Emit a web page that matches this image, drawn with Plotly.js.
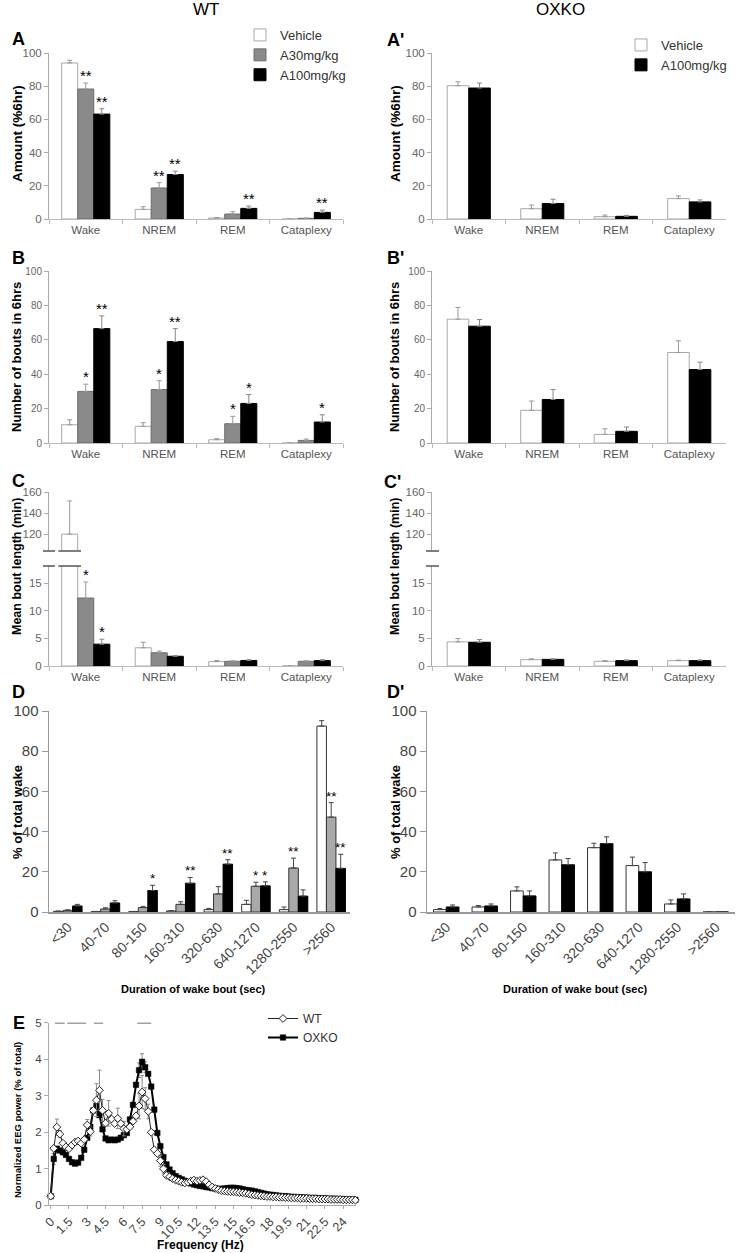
<!DOCTYPE html>
<html><head><meta charset="utf-8">
<script src="https://cdn.plot.ly/plotly-3.0.1.min.js"></script>
<style>html,body{margin:0;padding:0;background:#fff}#chart{width:736px;height:1253px}</style>
</head><body><div id="chart"></div>
<script>
// ================= DATA =================
const stages = ['Wake', 'NREM', 'REM', 'Cataplexy'];
const wakeBins = ['<30', '40-70', '80-150', '160-310', '320-630', '640-1270', '1280-2550', '>2560'];

// A (WT) amount (%6hr)
const amtWT_veh = [94, 5.8, 0.6, 0];       const amtWT_veh_err = [1.6, 1.6, 0.3, 0];
const amtWT_a30 = [78.3, 18.7, 3, 0.4];    const amtWT_a30_err = [3.6, 3.2, 1.4, 0.2];
const amtWT_a100 = [63.2, 26.8, 6.4, 4];   const amtWT_a100_err = [3.2, 2, 1.4, 1.4];
const amtWT_a30_sig = ['**', '**', '', ''];
const amtWT_a100_sig = ['**', '**', '**', '**'];
// A' (OXKO)
const amtKO_veh = [80.3, 6.2, 1.4, 12.3];  const amtKO_veh_err = [2.4, 2.2, 1, 1.6];
const amtKO_a100 = [78.9, 9.3, 1.6, 10.3]; const amtKO_a100_err = [3, 2.6, 0.6, 1.2];

// B (WT) number of bouts in 6hrs
const boutWT_veh = [10.6, 9.7, 1.9, 0];    const boutWT_veh_err = [2.9, 2.1, 0.6, 0];
const boutWT_a30 = [30, 31.1, 11.2, 1.5];  const boutWT_a30_err = [4.2, 5.1, 4.3, 0.8];
const boutWT_a100 = [66.5, 59, 23, 12.2];  const boutWT_a100_err = [7.4, 7.5, 5.2, 4.2];
const boutWT_a30_sig = ['*', '*', '*', ''];
const boutWT_a100_sig = ['**', '**', '*', '*'];
// B' (OXKO)
const boutKO_veh = [72, 19, 5, 52.6];      const boutKO_veh_err = [6.8, 5.4, 3.3, 6.8];
const boutKO_a100 = [67.9, 25.3, 6.8, 42.7]; const boutKO_a100_err = [3.9, 5.8, 2.5, 4.3];

// C (WT) mean bout length (min)
const lenWT_veh = [120, 3.3, 0.8, 0];      const lenWT_veh_err = [31.5, 1, 0.2, 0];
const lenWT_a30 = [12.3, 2.4, 0.85, 0.85]; const lenWT_a30_err = [2.9, 0.3, 0.1, 0.1];
const lenWT_a100 = [3.95, 1.76, 1.0, 0.97]; const lenWT_a100_err = [0.9, 0.12, 0.15, 0.18];
const lenWT_a30_sig = ['*', '', '', ''];
const lenWT_a100_sig = ['*', '', '', ''];
// C' (OXKO)
const lenKO_veh = [4.37, 1.15, 0.85, 0.97]; const lenKO_veh_err = [0.6, 0.15, 0.12, 0.1];
const lenKO_a100 = [4.3, 1.2, 0.97, 0.97];  const lenKO_a100_err = [0.5, 0.1, 0.13, 0.13];

// D (WT) % of total wake by bout duration
const distWT_veh = [0.3, 0.2, 0.2, 0.5, 1.2, 3.8, 1.2, 92.5];
const distWT_veh_err = [0.2, 0.1, 0.1, 0.2, 0.6, 2, 1.3, 2.7];
const distWT_a30 = [0.8, 1.5, 2.2, 3.8, 9, 12.8, 21.9, 47.2];
const distWT_a30_err = [0.3, 0.6, 0.6, 1.3, 3.6, 2, 4.9, 7.2];
const distWT_a100 = [3, 4.5, 10.7, 14.3, 23.8, 13, 7.9, 21.7];
const distWT_a100_err = [0.8, 1.1, 2.6, 2.9, 2.2, 2, 3.1, 7];
const distWT_a30_sig = ['', '', '', '', '', '*', '**', '**'];
const distWT_a100_sig = ['', '', '*', '**', '**', '*', '', '**'];
// D' (OXKO)
const distKO_veh = [1.2, 2.5, 10.5, 25.9, 32, 23.1, 4, 0];
const distKO_veh_err = [0.5, 0.7, 2, 3.5, 2.2, 4.2, 2, 0];
const distKO_a100 = [2.5, 3, 8, 23.5, 34, 20, 6.5, 0];
const distKO_a100_err = [1, 1, 2.5, 3.1, 3.4, 4.6, 2.5, 0];

// E normalized EEG power spectrum
const freqHz = [0,0.25,0.5,0.75,1,1.25,1.5,1.75,2,2.25,2.5,2.75,3,3.25,3.5,3.75,4,4.25,4.5,4.75,
  5,5.25,5.5,5.75,6,6.25,6.5,6.75,7,7.25,7.5,7.75,8,8.25,8.5,8.75,9,9.25,9.5,9.75,
  10,10.25,10.5,10.75,11,11.25,11.5,11.75,12,12.25,12.5,12.75,13,13.25,13.5,13.75,14,14.25,14.5,14.75,
  15,15.25,15.5,15.75,16,16.25,16.5,16.75,17,17.25,17.5,17.75,18,18.25,18.5,18.75,19,19.25,19.5,19.75,
  20,20.25,20.5,20.75,21,21.25,21.5,21.75,22,22.25,22.5,22.75,23,23.25,23.5,23.75,24,24.25,24.5,24.75,25];
const eegWT = [0.25,1.56,2.14,1.95,1.7,1.6,1.55,1.65,1.73,1.76,
  1.7,1.8,2.2,2.02,2.6,2.88,3.15,2.6,2.25,2.52,
  2.36,2.24,2.38,2.24,2.1,2.08,2.15,2.3,2.45,2.72,
  3.1,2.92,2.57,2.0,1.52,1.42,1.22,1.0,0.82,0.78,
  0.73,0.69,0.66,0.63,0.61,0.63,0.66,0.69,0.66,0.68,
  0.7,0.65,0.56,0.5,0.46,0.43,0.4,0.39,0.38,0.37,
  0.37,0.36,0.35,0.34,0.33,0.31,0.29,0.28,0.27,0.26,
  0.25,0.24,0.24,0.23,0.23,0.22,0.22,0.21,0.21,0.2,
  0.2,0.2,0.19,0.19,0.19,0.18,0.18,0.18,0.17,0.17,
  0.17,0.17,0.16,0.16,0.16,0.16,0.15,0.15,0.15,0.15,0.14];
const eegWT_err = [0,0,0.22,0.1,0,0,0,0,0,0,
  0,0,0.15,0.12,0,0.45,0.55,0.3,0,0.35,
  0,0,0.28,0,0.2,0,0,0,0,0.35,
  0.45,0.3,0.2,0,0,0,0.15,0.12,0,0,
  0,0,0,0,0,0,0,0,0,0,0,0,0,0,0,0,0,0,0,0,
  0,0,0,0,0,0,0,0,0,0,0,0,0,0,0,0,0,0,0,0,
  0,0,0,0,0,0,0,0,0,0,0,0,0,0,0,0,0,0,0,0,0];
const eegKO = [0.25,1.27,1.55,1.5,1.45,1.38,1.27,1.18,1.14,1.17,
  1.3,1.52,1.85,2.15,2.6,2.72,2.47,2.08,1.83,1.78,
  1.8,1.78,1.8,1.85,1.92,1.98,2.35,2.75,3.3,3.7,
  3.93,3.78,3.6,3.25,2.62,1.98,1.62,1.32,1.12,0.98,
  0.88,0.8,0.75,0.71,0.67,0.63,0.6,0.57,0.55,0.53,
  0.52,0.5,0.49,0.47,0.46,0.45,0.45,0.46,0.47,0.48,
  0.48,0.47,0.46,0.44,0.42,0.41,0.4,0.38,0.36,0.34,
  0.32,0.3,0.29,0.28,0.27,0.26,0.25,0.25,0.24,0.23,
  0.23,0.22,0.22,0.21,0.21,0.2,0.2,0.2,0.19,0.19,
  0.19,0.18,0.18,0.18,0.17,0.17,0.17,0.16,0.16,0.16,0.15];
const eegKO_err = [0,0.15,0,0,0,0,0,0,0,0,
  0,0,0,0,0,0.15,0,0,0,0,
  0,0,0,0,0,0,0,0,0,0.2,
  0.22,0.15,0,0,0,0,0,0,0,0,
  0,0,0,0,0,0,0,0,0,0,0,0,0,0,0,0,0,0,0,0,
  0,0,0,0,0,0,0,0,0,0,0,0,0,0,0,0,0,0,0,0,
  0,0,0,0,0,0,0,0,0,0,0,0,0,0,0,0,0,0,0,0,0];
const freqTicks = [0,1.5,3,4.5,6,7.5,9,10.5,12,13.5,15,16.5,18,19.5,21,22.5,24];
const sigStart = [0.35, 1.35, 3.55, 7.1];
const sigEnd = [1.15, 2.9, 4.3, 8.25];
const sigLevel = 5;

// ================= HELPERS =================
const FONT = 'Liberation Sans, Arial, sans-serif';
const W = 736, H = 1253;
const px = v => v / W;
const py = v => 1 - v / H;
const dX = (a, b) => [px(a), px(b)];
const dY = (top, bottom) => [py(bottom), py(top)];

const STY = {
  veh:  {fill: '#ffffff', line: '#a8a8a8', err: '#999'},
  a30:  {fill: '#8a8a8a', line: '#6e6e6e', err: '#999'},
  a100: {fill: '#000000', line: '#000000', err: '#888'},
  vehD: {fill: '#ffffff', line: '#333333', err: '#444'},
  a30D: {fill: '#a9a9a9', line: '#333333', err: '#444'},
  a100D:{fill: '#000000', line: '#000000', err: '#444'}
};

const traces = [];
const annotations = [];
const shapes = [];

function addBars(x, y, err, name, sty, xa, ya, idx, n, wFrac, legendId, sig, starFont) {
  const w = wFrac / n;
  const off = -wFrac / 2 + idx * w;
  traces.push({
    type: 'bar', x: x, y: y, name: name, xaxis: xa, yaxis: ya,
    width: w, offset: off,
    marker: {color: sty.fill, line: {color: sty.line, width: 1}},
    error_y: {type: 'data', symmetric: false, array: err, arrayminus: err.map(() => 0),
      color: sty.err, thickness: 1, width: 2.5, visible: true},
    showlegend: !!legendId, legend: legendId || 'legend', hoverinfo: 'skip'
  });
  if (sig) {
    sig.forEach((s, i) => {
      if (!s) return;
      annotations.push({
        xref: xa, yref: ya, x: i + off + w / 2, y: y[i] + err[i],
        text: s, showarrow: false, yanchor: 'bottom', xanchor: 'center', yshift: -3,
        font: {family: FONT, size: starFont || 15, color: '#000'}
      });
    });
  }
}

function catX(dom, anchor, cats, fsize) {
  return {domain: dom, anchor: anchor, type: 'category', categoryorder: 'array', categoryarray: cats,
    range: [-0.5, cats.length - 0.5], showline: true, linecolor: '#bbb', linewidth: 1,
    ticks: 'outside', tickson: 'boundaries', ticklen: 4, tickcolor: '#bbb',
    showgrid: false, zeroline: false, tickfont: {family: FONT, size: fsize, color: '#555'}, fixedrange: true};
}
function valY(dom, anchor, range, tickvals, fsize) {
  return {domain: dom, anchor: anchor, range: range, tickvals: tickvals, showline: true,
    linecolor: '#aaa', linewidth: 1, ticks: 'outside', ticklen: 4, tickcolor: '#aaa',
    showgrid: false, zeroline: false, tickfont: {family: FONT, size: fsize, color: '#666'}, fixedrange: true};
}

// ================= TRACES =================
const W3 = 0.655, W2 = 0.587;
// A
addBars(stages, amtWT_veh, amtWT_veh_err, 'Vehicle', STY.veh, 'x', 'y', 0, 3, W3, 'legend');
addBars(stages, amtWT_a30, amtWT_a30_err, 'A30mg/kg', STY.a30, 'x', 'y', 1, 3, W3, 'legend', amtWT_a30_sig);
addBars(stages, amtWT_a100, amtWT_a100_err, 'A100mg/kg', STY.a100, 'x', 'y', 2, 3, W3, 'legend', amtWT_a100_sig);
// A'
addBars(stages, amtKO_veh, amtKO_veh_err, 'Vehicle', STY.veh, 'x2', 'y2', 0, 2, W2, 'legend2');
addBars(stages, amtKO_a100, amtKO_a100_err, 'A100mg/kg', STY.a100, 'x2', 'y2', 1, 2, W2, 'legend2');
// B
addBars(stages, boutWT_veh, boutWT_veh_err, 'Vehicle', STY.veh, 'x3', 'y3', 0, 3, W3);
addBars(stages, boutWT_a30, boutWT_a30_err, 'A30mg/kg', STY.a30, 'x3', 'y3', 1, 3, W3, null, boutWT_a30_sig);
addBars(stages, boutWT_a100, boutWT_a100_err, 'A100mg/kg', STY.a100, 'x3', 'y3', 2, 3, W3, null, boutWT_a100_sig);
// B'
addBars(stages, boutKO_veh, boutKO_veh_err, 'Vehicle', STY.veh, 'x4', 'y4', 0, 2, W2);
addBars(stages, boutKO_a100, boutKO_a100_err, 'A100mg/kg', STY.a100, 'x4', 'y4', 1, 2, W2);
// C (lower y5, upper y6)
['y5', 'y6'].forEach(ya => {
  const lower = ya === 'y5';
  addBars(stages, lenWT_veh, lenWT_veh_err, 'Vehicle', STY.veh, 'x5', ya, 0, 3, W3);
  addBars(stages, lenWT_a30, lenWT_a30_err, 'A30mg/kg', STY.a30, 'x5', ya, 1, 3, W3, null, lower ? lenWT_a30_sig : null);
  addBars(stages, lenWT_a100, lenWT_a100_err, 'A100mg/kg', STY.a100, 'x5', ya, 2, 3, W3, null, lower ? lenWT_a100_sig : null);
});
// C' (lower y7, upper y8)
['y7', 'y8'].forEach(ya => {
  addBars(stages, lenKO_veh, lenKO_veh_err, 'Vehicle', STY.veh, 'x6', ya, 0, 2, W2);
  addBars(stages, lenKO_a100, lenKO_a100_err, 'A100mg/kg', STY.a100, 'x6', ya, 1, 2, W2);
});
// D
const WD = 0.758, WD2 = 0.66;
addBars(wakeBins, distWT_veh, distWT_veh_err, 'Vehicle', STY.vehD, 'x7', 'y9', 0, 3, WD);
addBars(wakeBins, distWT_a30, distWT_a30_err, 'A30mg/kg', STY.a30D, 'x7', 'y9', 1, 3, WD, null, distWT_a30_sig, 13.5);
addBars(wakeBins, distWT_a100, distWT_a100_err, 'A100mg/kg', STY.a100D, 'x7', 'y9', 2, 3, WD, null, distWT_a100_sig, 13.5);
// D'
addBars(wakeBins, distKO_veh, distKO_veh_err, 'Vehicle', STY.vehD, 'x8', 'y10', 0, 2, WD2);
addBars(wakeBins, distKO_a100, distKO_a100_err, 'A100mg/kg', STY.a100D, 'x8', 'y10', 1, 2, WD2);

// E
const sigX = [], sigY = [];
sigStart.forEach((s, i) => { sigX.push(s, sigEnd[i], null); sigY.push(sigLevel, sigLevel, null); });
traces.push({type: 'scatter', mode: 'lines', x: sigX, y: sigY, xaxis: 'x9', yaxis: 'y11',
  line: {color: '#444', width: 1.5}, showlegend: false, cliponaxis: false, hoverinfo: 'skip'});
traces.push({type: 'scatter', mode: 'lines+markers', x: freqHz, y: eegKO, name: 'OXKO', xaxis: 'x9', yaxis: 'y11',
  line: {color: '#000', width: 2}, marker: {symbol: 'square', size: 5.5, color: '#000', line: {color: '#000', width: 0.5}},
  error_y: {type: 'data', array: eegKO_err, color: '#888', thickness: 1, width: 2},
  legend: 'legend3', legendrank: 2, cliponaxis: false, hoverinfo: 'skip'});
traces.push({type: 'scatter', mode: 'lines+markers', x: freqHz, y: eegWT, name: 'WT', xaxis: 'x9', yaxis: 'y11',
  line: {color: '#222', width: 1}, marker: {symbol: 'diamond', size: 6, color: '#fff', line: {color: '#222', width: 1}},
  error_y: {type: 'data', array: eegWT_err, color: '#888', thickness: 1, width: 2},
  legend: 'legend3', legendrank: 1, cliponaxis: false, hoverinfo: 'skip'});

// ================= TEXT =================
function ann(text, x, y, size, opts) {
  annotations.push(Object.assign({xref: 'paper', yref: 'paper', x: px(x), y: py(y), text: text,
    showarrow: false, xanchor: 'center', yanchor: 'middle',
    font: {family: FONT, size: size, color: '#000'}}, opts || {}));
}
ann('WT', 206, 10, 17);
ann('OXKO', 560, 10, 17);
[['A', 18, 39], ["A'", 395, 40], ['B', 18, 258], ["B'", 396, 258], ['C', 18, 481], ["C'", 393, 482],
 ['D', 18, 692], ["D'", 396, 692], ['E', 19, 1023]].forEach(p => ann('<b>' + p[0] + '</b>', p[1], p[2], 18));
// y-axis titles
[['Amount (%6hr)', 17, 134, 13.5], ['Amount (%6hr)', 395, 134, 13.5],
 ['Number of bouts in 6hrs', 17, 357, 13], ['Number of bouts in 6hrs', 395, 357, 13],
 ['Mean bout length (min)', 17, 567, 12.5], ['Mean bout length (min)', 395, 567, 12.5],
 ['% of total wake', 17, 812, 13], ['% of total wake', 395, 812, 13],
 ['Normalized EEG power (% of total)', 17, 1120, 9.5]].forEach(p =>
  ann('<b>' + p[0] + '</b>', p[1], p[2], p[3], {textangle: -90}));
// x-axis titles
ann('<b>Duration of wake bout (sec)</b>', 193, 989, 11);
ann('<b>Duration of wake bout (sec)</b>', 575, 989, 11);
ann('<b>Frequency (Hz)</b>', 200, 1245, 12);

// axis-break marks for C and C'
function hline(x0, x1, y, xref) {
  shapes.push({type: 'line', xref: xref || 'paper', yref: 'paper', x0: x0, x1: x1, y0: py(y), y1: py(y),
    line: {color: '#555', width: 1.5}});
}
[551, 566].forEach(yb => {
  hline(px(43), px(55), yb);
  hline(px(426), px(439), yb);
  const w = W3 / 3, off = -W3 / 2;
  hline(off - 0.045, off + w + 0.045, yb, 'x5');
});

// ================= LAYOUT =================
const dXaxis = dom => Object.assign(catX(dom, null, wakeBins, 14),
  {ticks: '', tickangle: -45, linecolor: '#999', linewidth: 1.5, tickfont: {family: FONT, size: 14, color: '#444'}});
const dYaxis = (anchor) => Object.assign(valY(dY(711, 912), anchor, [0, 100], [0, 20, 40, 60, 80, 100], 15),
  {linecolor: '#999', linewidth: 1.5, tickcolor: '#999', ticklen: 6, tickfont: {family: FONT, size: 15, color: '#444'}});

const layout = {
  width: W, height: H, margin: {l: 0, r: 0, t: 0, b: 0},
  paper_bgcolor: '#fff', plot_bgcolor: 'rgba(0,0,0,0)',
  barmode: 'overlay', showlegend: true,
  font: {family: FONT, color: '#333'},
  xaxis: catX(dX(49, 343), 'y', stages, 11.5),
  yaxis: valY(dY(53, 219), 'x', [0, 100], [0, 20, 40, 60, 80, 100], 11.5),
  xaxis2: catX(dX(432, 726), 'y2', stages, 11.5),
  yaxis2: valY(dY(53, 219), 'x2', [0, 100], [0, 20, 40, 60, 80, 100], 11.5),
  xaxis3: catX(dX(49, 343), 'y3', stages, 11.5),
  yaxis3: valY(dY(271, 443), 'x3', [0, 100], [0, 20, 40, 60, 80, 100], 10),
  xaxis4: catX(dX(432, 726), 'y4', stages, 11.5),
  yaxis4: valY(dY(271, 443), 'x4', [0, 100], [0, 20, 40, 60, 80, 100], 10),
  xaxis5: catX(dX(49, 343), 'y5', stages, 11.5),
  yaxis5: valY(dY(566, 666), 'x5', [0, 18.1], [0, 5, 10, 15], 11.5),
  yaxis6: valY(dY(492, 551), 'x5', [104, 160], [120, 140, 160], 11.5),
  xaxis6: catX(dX(432, 726), 'y7', stages, 11.5),
  yaxis7: valY(dY(566, 666), 'x6', [0, 18.1], [0, 5, 10, 15], 11.5),
  yaxis8: valY(dY(492, 551), 'x6', [104, 160], [120, 140, 160], 11.5),
  xaxis7: Object.assign(dXaxis(dX(49, 350)), {anchor: 'y9'}),
  yaxis9: dYaxis('x7'),
  xaxis8: Object.assign(dXaxis(dX(427, 735)), {anchor: 'y10'}),
  yaxis10: dYaxis('x8'),
  xaxis9: {domain: dX(49, 356), anchor: 'y11', range: [-0.14, 25.05], tickvals: freqTicks,
    ticktext: freqTicks.map(String), tickangle: -45, showline: true, linecolor: '#aaa', ticks: 'outside',
    ticklen: 3, tickcolor: '#aaa', showgrid: false, zeroline: false,
    tickfont: {family: FONT, size: 12.5, color: '#444'}, fixedrange: true},
  yaxis11: Object.assign(valY(dY(1022.7, 1205.3), 'x9', [0, 5], [0, 1, 2, 3, 4, 5], 11.5),
    {tickfont: {family: FONT, size: 11.5, color: '#444'}}),
  legend: {x: px(240), y: py(20), xanchor: 'left', yanchor: 'top', bgcolor: 'rgba(0,0,0,0)',
    font: {family: FONT, size: 13, color: '#333'}, tracegroupgap: 0},
  legend2: {x: px(621), y: py(30), xanchor: 'left', yanchor: 'top', bgcolor: 'rgba(0,0,0,0)',
    font: {family: FONT, size: 13, color: '#333'}, tracegroupgap: 0},
  legend3: {x: px(263), y: py(1004), xanchor: 'left', yanchor: 'top', bgcolor: 'rgba(0,0,0,0)',
    font: {family: FONT, size: 12, color: '#333'}, tracegroupgap: 0},
  annotations: annotations,
  shapes: shapes
};

Plotly.newPlot('chart', traces, layout, {displayModeBar: false, staticPlot: true});
</script>
</body></html>
